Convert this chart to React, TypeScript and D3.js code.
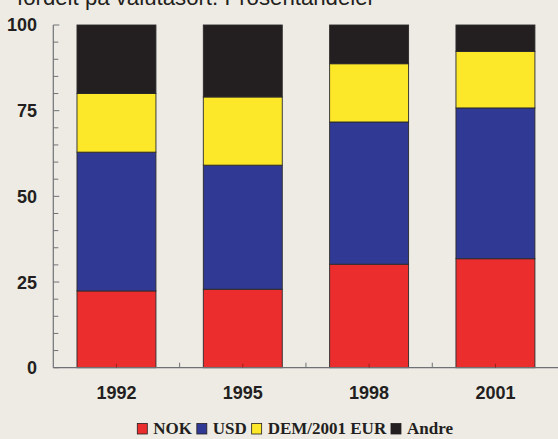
import React, { useEffect, useRef } from "react";
import * as d3 from "d3";

const years = ["1992", "1995", "1998", "2001"];
const seriesNames = ["NOK", "USD", "DEM/2001 EUR", "Andre"];
const nok = [22.4, 22.9, 30.2, 31.8];
const usd = [40.5, 36.2, 41.5, 44.0];
const dem = [17.1, 19.9, 17.0, 16.5];
const andre = [20.0, 21.0, 11.3, 7.7];
const colors = ["#EC2D2E", "#303A94", "#FCE829", "#231F20"];
const yTicks = [0, 25, 50, 75, 100];
const titleText = "fordelt på valutasort. Prosentandeler";

const W = 558;
const H = 439;

export default function App() {
  const ref = useRef<SVGSVGElement | null>(null);

  useEffect(() => {
    const svg = d3.select(ref.current);
    svg.selectAll("*").remove();

    svg.append("rect").attr("width", W).attr("height", H).attr("fill", "#EEEBE5");

    const left = 53.3;
    const right = 558.6;
    const top = 25;
    const bottom = 367.7;

    const x = d3
      .scaleBand<string>()
      .domain(years)
      .range([left, right])
      .paddingInner(0.375)
      .paddingOuter(0.1875);
    const y = d3.scaleLinear().domain([0, 100]).range([bottom, top]);

    const table = years.map((yr, i) => ({
      year: yr,
      NOK: nok[i],
      USD: usd[i],
      "DEM/2001 EUR": dem[i],
      Andre: andre[i],
    }));
    const stack = d3.stack<any>().keys(seriesNames)(table);

    // title (cropped at top, as in the reference)
    svg
      .append("text")
      .attr("x", 17)
      .attr("y", 5)
      .attr("font-family", "Arial, 'Liberation Sans', sans-serif")
      .attr("font-size", 22)
      .attr("textLength", 358)
      .attr("lengthAdjust", "spacingAndGlyphs")
      .attr("fill", "#231F20")
      .text(titleText);

    // bars
    stack.forEach((layer, li) => {
      svg
        .append("g")
        .selectAll("rect")
        .data(layer)
        .join("rect")
        .attr("x", (d: any) => x(d.data.year)!)
        .attr("width", x.bandwidth())
        .attr("y", (d: any) => y(d[1]))
        .attr("height", (d: any) => y(d[0]) - y(d[1]))
        .attr("fill", colors[li])
        .attr("stroke", "#2b2a2a")
        .attr("stroke-width", 0.9);
    });

    const axisColor = "#6f7275";
    // y axis
    svg
      .append("line")
      .attr("x1", left)
      .attr("x2", left)
      .attr("y1", top)
      .attr("y2", bottom)
      .attr("stroke", axisColor)
      .attr("stroke-width", 1.2);
    const minor = d3.range(0, 101, 5);
    svg
      .append("g")
      .selectAll("line")
      .data(minor)
      .join("line")
      .attr("x1", left)
      .attr("x2", (d) => (d % 25 === 0 ? left + 6 : left + 5))
      .attr("y1", (d) => y(d))
      .attr("y2", (d) => y(d))
      .attr("stroke", axisColor)
      .attr("stroke-width", 1);

    svg
      .append("g")
      .selectAll("text")
      .data(yTicks)
      .join("text")
      .attr("x", 37)
      .attr("y", (d) => y(d))
      .attr("dy", "0.36em")
      .attr("text-anchor", "end")
      .attr("font-family", "'Liberation Sans Narrow', 'Arial Narrow', Arial, sans-serif")
      .attr("font-weight", "bold")
      .attr("font-size", 18)
      .attr("fill", "#231F20")
      .text((d) => String(d));

    // x axis
    svg
      .append("line")
      .attr("x1", left)
      .attr("x2", right)
      .attr("y1", bottom)
      .attr("y2", bottom)
      .attr("stroke", axisColor)
      .attr("stroke-width", 1.2);
    const step = x.step();
    const boundaries = years.slice(1).map((yr) => x(yr)! - (step - x.bandwidth()) / 2);
    svg
      .append("g")
      .selectAll("line")
      .data(boundaries)
      .join("line")
      .attr("x1", (d) => d)
      .attr("x2", (d) => d)
      .attr("y1", bottom)
      .attr("y2", bottom - 5)
      .attr("stroke", axisColor);
    svg
      .append("g")
      .selectAll("line")
      .data(years)
      .join("line")
      .attr("x1", (d) => x(d)! + x.bandwidth() / 2)
      .attr("x2", (d) => x(d)! + x.bandwidth() / 2)
      .attr("y1", bottom)
      .attr("y2", bottom - 4)
      .attr("stroke", "#8a2020")
      .attr("stroke-width", 0.8);

    svg
      .append("g")
      .selectAll("text")
      .data(years)
      .join("text")
      .attr("x", (d) => x(d)! + x.bandwidth() / 2)
      .attr("y", 399.3)
      .attr("text-anchor", "middle")
      .attr("font-family", "'Liberation Sans Narrow', 'Arial Narrow', Arial, sans-serif")
      .attr("font-weight", "bold")
      .attr("font-size", 18)
      .attr("fill", "#231F20")
      .text((d) => d);

    // legend
    const lg = svg.append("g");
    let cx = 137.3;
    seriesNames.forEach((name, i) => {
      lg.append("rect")
        .attr("x", cx)
        .attr("y", 423.5)
        .attr("width", 10)
        .attr("height", 10.5)
        .attr("fill", colors[i])
        .attr("stroke", "#231F20")
        .attr("stroke-width", 0.8);
      const t = lg
        .append("text")
        .attr("x", cx + 16)
        .attr("y", 434)
        .attr("font-family", "'Liberation Serif', 'Times New Roman', serif")
        .attr("font-weight", "bold")
        .attr("font-size", 17)
        .attr("fill", "#231F20")
        .text(name);
      const w = (t.node() as SVGTextElement).getComputedTextLength();
      cx = cx + 16 + w + 4.8;
    });
  }, []);

  return (
    <svg
      ref={ref}
      width={W}
      height={H}
      style={{ position: "absolute", left: 0, top: 0, display: "block" }}
    />
  );
}
